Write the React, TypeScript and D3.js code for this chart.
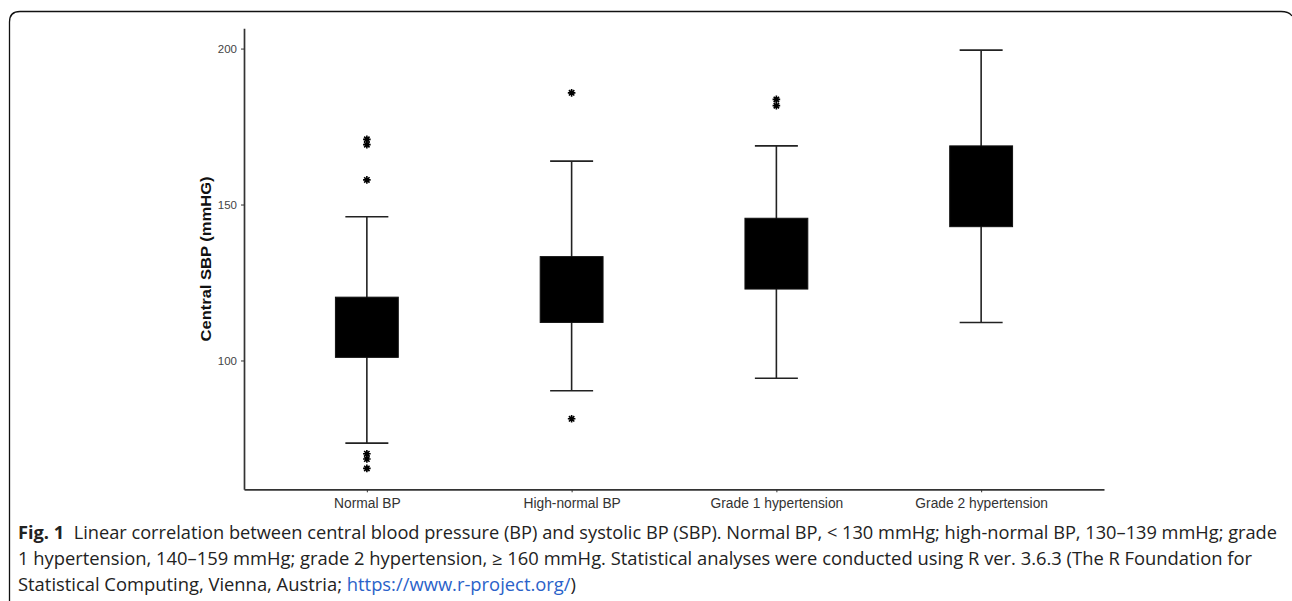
import React, { useEffect, useRef } from 'react';
import * as d3 from 'd3';

// box plot values (mmHg)
const categories = ['Normal BP', 'High-normal BP', 'Grade 1 hypertension', 'Grade 2 hypertension'];
const whiskerLow = [73.5, 90.3, 94.3, 112.2];
const q1 = [101.0, 112.2, 122.9, 142.9];
const q3 = [120.3, 133.3, 145.6, 168.8];
const whiskerHigh = [146.1, 163.9, 168.8, 199.5];
const outliers = [
  [170.9, 169.2, 157.9, 70.1, 68.4, 65.4],
  [185.8, 81.3],
  [183.7, 181.7],
  [],
];
const yTicks = [100, 150, 200];
const yDomain = [58.7, 206.5];

const captionLines = [
  'Linear correlation between central blood pressure (BP) and systolic BP (SBP). Normal BP, < 130 mmHg; high-normal BP, 130–139 mmHg; grade',
  '1 hypertension, 140–159 mmHg; grade 2 hypertension, ≥ 160 mmHg. Statistical analyses were conducted using R ver. 3.6.3 (The R Foundation for',
  'Statistical Computing, Vienna, Austria; ',
];
const captionLink = 'https://www.r-project.org/';

const App: React.FC = () => {
  const svgRef = useRef<SVGSVGElement | null>(null);

  useEffect(() => {
    const width = 1292;
    const height = 601;
    const axisLeft = 244;
    const axisRight = 1104;
    const axisTop = 28.3;
    const axisBottom = 489.3;

    const svg = d3.select(svgRef.current);
    svg.selectAll('*').remove();
    svg.attr('viewBox', [0, 0, width, height]);

    // figure frame (top + left edge with rounded corners)
    svg.append('path')
      .attr('d', `M9.5,601 V22 Q9.5,11.5 20,11.5 H1281 Q1289,11.5 1292,16`)
      .attr('fill', 'none')
      .attr('stroke', '#111')
      .attr('stroke-width', 1.3);

    const x = d3.scalePoint<string>()
      .domain(categories)
      .range([axisLeft, axisRight])
      .padding(0.6);

    const y = d3.scaleLinear()
      .domain(yDomain)
      .range([axisBottom, axisTop]);

    const boxW = x.step() * 0.307;
    const capW = x.step() * 0.105;

    // y axis
    svg.append('g')
      .attr('transform', `translate(${axisLeft},0)`)
      .call(d3.axisLeft(y).tickValues(yTicks).tickSize(3).tickSizeOuter(0).tickPadding(4))
      .call(g => g.select('.domain').attr('stroke', '#333').attr('stroke-width', 1.7))
      .call(g => g.selectAll('.tick line').attr('stroke', '#333'))
      .call(g => g.selectAll('.tick text')
        .attr('fill', '#444')
        .attr('font-family', 'Liberation Sans, Arial, sans-serif')
        .attr('font-size', 11.5));

    // x axis
    svg.append('g')
      .attr('transform', `translate(0,${axisBottom})`)
      .call(d3.axisBottom(x).tickSize(3).tickSizeOuter(0).tickPadding(6))
      .call(g => g.select('.domain').attr('stroke', '#333').attr('stroke-width', 1.7))
      .call(g => g.selectAll('.tick line').attr('stroke', '#333'))
      .call(g => g.selectAll('.tick text')
        .attr('fill', '#333')
        .attr('font-family', 'Liberation Sans, Arial, sans-serif')
        .attr('font-size', 13.8));

    // y axis title
    svg.append('text')
      .attr('transform', `translate(211,259) rotate(-90)`)
      .attr('text-anchor', 'middle')
      .attr('font-family', 'Liberation Sans, Arial, sans-serif')
      .attr('font-weight', 'bold')
      .attr('font-size', 15)
      .attr('fill', '#111')
      .attr('textLength', 165)
      .attr('lengthAdjust', 'spacingAndGlyphs')
      .text('Central SBP (mmHG)');

    const boxes = svg.append('g')
      .selectAll('g')
      .data(categories)
      .join('g')
      .attr('transform', d => `translate(${x(d)},0)`);

    // whiskers
    boxes.append('line')
      .attr('y1', (_, i) => y(whiskerLow[i]))
      .attr('y2', (_, i) => y(whiskerHigh[i]))
      .attr('stroke', '#222')
      .attr('stroke-width', 1.6);

    boxes.selectAll('line.cap')
      .data((_, i) => [whiskerLow[i], whiskerHigh[i]])
      .join('line')
      .attr('class', 'cap')
      .attr('x1', -capW)
      .attr('x2', capW)
      .attr('y1', d => y(d))
      .attr('y2', d => y(d))
      .attr('stroke', '#222')
      .attr('stroke-width', 1.6);

    boxes.append('rect')
      .attr('x', -boxW / 2)
      .attr('width', boxW)
      .attr('y', (_, i) => y(q3[i]))
      .attr('height', (_, i) => y(q1[i]) - y(q3[i]))
      .attr('fill', '#000')
      .attr('stroke', '#111')
      .attr('stroke-width', 1);

    // outliers drawn as asterisks (pch 8)
    const r = 3.8;
    const d45 = r * Math.SQRT1_2;
    boxes.selectAll('path.outlier')
      .data((_, i) => outliers[i])
      .join('path')
      .attr('class', 'outlier')
      .attr('transform', d => `translate(0,${y(d)})`)
      .attr('d', `M${-r},0H${r}M0,${-r}V${r}M${-d45},${-d45}L${d45},${d45}M${-d45},${d45}L${d45},${-d45}`)
      .attr('stroke', '#000')
      .attr('stroke-width', 1.6)
      .attr('fill', 'none');

    // caption
    const caption = svg.append('g')
      .attr('font-family', 'Open Sans, Noto Sans, sans-serif')
      .attr('font-size', 17.5)
      .attr('fill', '#222');

    const line1 = caption.append('text')
      .attr('x', 18)
      .attr('y', 539)
      .attr('textLength', 1259)
      .attr('lengthAdjust', 'spacingAndGlyphs');
    line1.append('tspan').attr('font-weight', 'bold').text('Fig. 1');
    line1.append('tspan').text('\u00a0\u00a0' + captionLines[0]);

    caption.append('text')
      .attr('x', 18)
      .attr('y', 565)
      .attr('textLength', 1234)
      .attr('lengthAdjust', 'spacingAndGlyphs')
      .text(captionLines[1]);

    const line3 = caption.append('text')
      .attr('x', 18)
      .attr('y', 591)
      .attr('textLength', 558)
      .attr('lengthAdjust', 'spacingAndGlyphs');
    line3.append('tspan').text(captionLines[2]);
    line3.append('tspan').attr('fill', '#2a62c9').text(captionLink);
    line3.append('tspan').text(')');
  }, []);

  return (
    <svg
      ref={svgRef}
      width={1292}
      height={601}
      style={{ position: 'absolute', left: 0, top: 0, background: '#fff' }}
    />
  );
};

export default App;
